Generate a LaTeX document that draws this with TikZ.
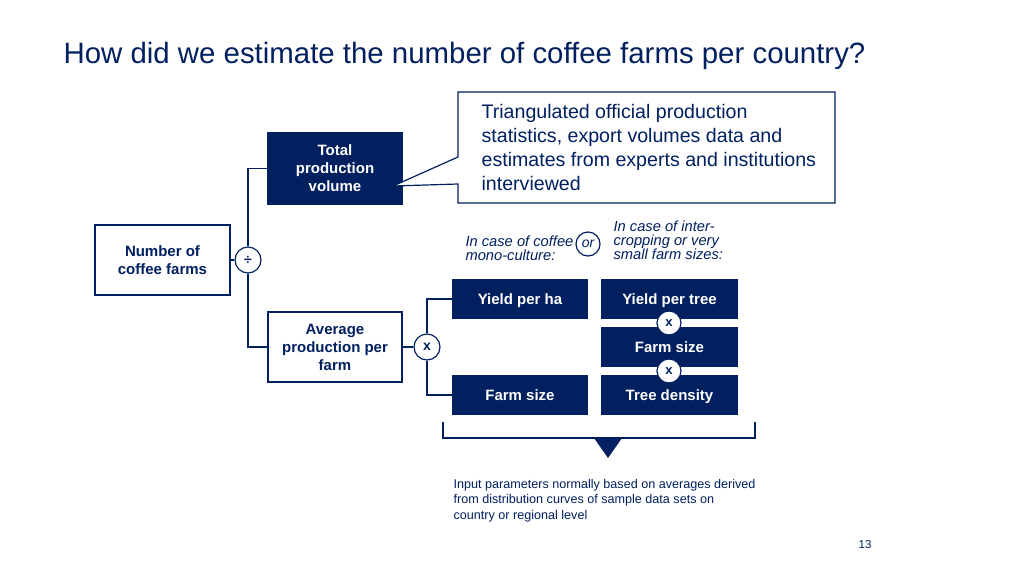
\documentclass[tikz,border=0pt]{standalone}
\usepackage{fontspec}
\setmainfont{Liberation Sans}
\usetikzlibrary{calc}
\definecolor{navy}{RGB}{0,32,96}
\begin{document}
\begin{tikzpicture}[x=1pt,y=-1pt,
  line width=1.2pt,
  boxfont/.style={font=\bfseries\fontsize{15}{18}\selectfont},
  darkbox/.style={draw=navy,fill=navy,text=white,boxfont,align=center,inner sep=0pt,minimum width=134pt},
  onerow/.style={darkbox,minimum height=38pt,text height=14pt,text depth=3pt},
  whitebox/.style={draw=navy,fill=white,text=navy,boxfont,align=center,inner sep=0pt,minimum width=135pt,minimum height=70pt},
  opcirc/.style={circle,draw=navy,fill=white,text=navy,font=\bfseries\fontsize{14}{14}\selectfont,inner sep=0pt,minimum size=26pt},
  smallop/.style={circle,draw=navy,fill=white,text=navy,font=\bfseries\fontsize{13}{13}\selectfont,inner sep=0pt,minimum size=24pt},
  conn/.style={draw=navy,line width=1.2pt},
  itlabel/.style={text=navy,font=\itshape\fontsize{14.7}{13.5}\selectfont,inner sep=0pt}
]
\useasboundingbox (0,0) rectangle (1015,571);
\fill[white] (0,0) rectangle (1015,571);

% title
\node[anchor=base west,inner sep=0pt,text=navy,font=\fontsize{29.4}{32}\selectfont] (title) at (63,63) {How did we estimate the number of coffee farms per country?};

% main boxes
\node[whitebox] (num) at (162.5,260) {Number of\\coffee farms};
\node[darkbox,minimum height=71pt] (total) at (335,168.5) {Total\\production\\volume};
\node[whitebox,minimum width=134pt] (avg) at (335,347) {Average\\production per\\farm};
\node[opcirc] (div) at (248,260) {÷};
\node[opcirc] (mul) at (427,347) {x};

\draw[conn] (num.east) -- (div.west);
\draw[conn] (div.north) |- (total.west);
\draw[conn] (div.south) |- (avg.west);
\draw[conn] (avg.east) -- (mul.west);

% parameter boxes
\node[onerow] (yha) at (520,299) {Yield per ha};
\node[onerow] (fsl) at (520,395) {Farm size};
\node[onerow,minimum width=135pt] (ypt) at (669.5,299) {Yield per tree};
\node[onerow,minimum width=135pt] (fsr) at (669.5,347) {Farm size};
\node[onerow,minimum width=135pt] (td) at (669.5,395) {Tree density};
\draw[conn] (mul.north) |- (yha.west);
\draw[conn] (mul.south) |- (fsl.west);
\node[smallop] (m1) at (669,323) {x};
\node[smallop] (m2) at (669,371) {x};

% italic labels
\node[itlabel,align=left,anchor=east] (mono) at (574,248) {In case of coffee\\mono-culture:};
\node[circle,draw=navy,fill=white,text=navy,font=\itshape\fontsize{14}{14}\selectfont,inner sep=0pt,minimum size=24pt] (or) at (588,244) {or};
\node[itlabel,align=left,anchor=west] (inter) at (613,240.5) {In case of inter-\\cropping or very\\small farm sizes:};

% callout
\coordinate (tip) at (393,186);
\draw[draw=navy,fill=white,line width=1.2pt] (458,92) -- (835,92) -- (835,203) -- (458,203) -- (458,184) -- (tip) -- (458,157) -- cycle;
\node[anchor=north west,align=left,text=navy,inner sep=0pt,font=\fontsize{19.6}{24}\selectfont] (callout) at (481,104) {Triangulated official production\\statistics, export volumes data and\\estimates from experts and institutions\\interviewed};

% bracket
\coordinate (bl) at (443,422);
\coordinate (br) at (755,422);
\draw[navy,line width=1.2pt] (bl) -- ++(0,16) -- ($(br)+(0,16)$) -- (br);
\fill[navy] (594,438) -- (622,438) -- (608,458) -- cycle;

\node[anchor=north west,align=left,text=navy,inner sep=0pt,font=\fontsize{12.6}{15.5}\selectfont] (note) at (453,478.5) {Input parameters normally based on averages derived\\from distribution curves of sample data sets on\\country or regional level};

\node[text=navy,inner sep=0pt,font=\fontsize{11.5}{11.5}\selectfont] (page) at (865,545) {13};
\end{tikzpicture}
\end{document}
